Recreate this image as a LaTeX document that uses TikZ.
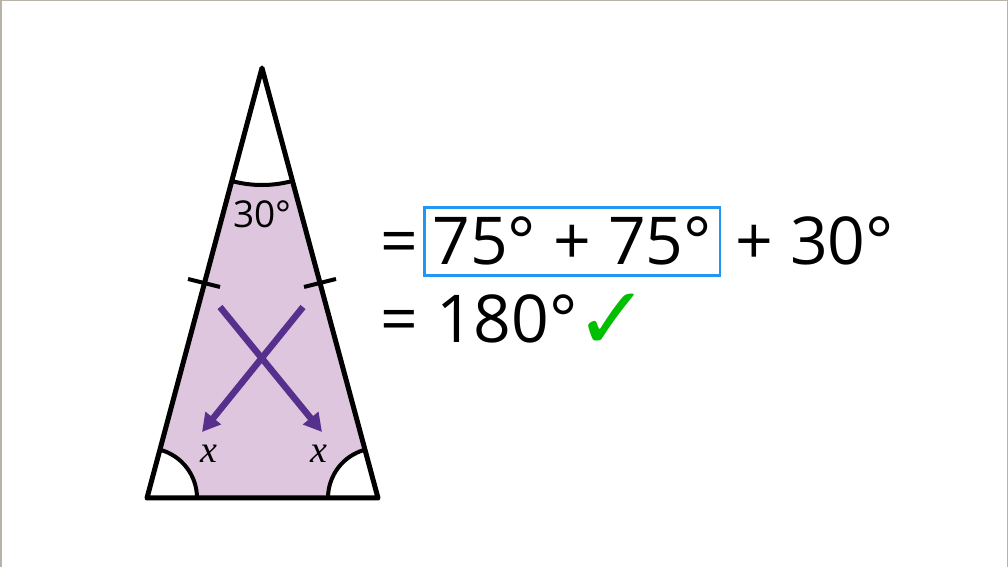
\documentclass[tikz,border=0pt]{standalone}
\usepackage{fontspec}
\setmainfont{Open Sans}
\newfontfamily\symfont{DejaVu Sans}
\newfontfamily\labelfont{Liberation Serif}
\usetikzlibrary{arrows.meta}
\definecolor{anglefill}{RGB}{223,198,223}
\definecolor{arrowpurple}{RGB}{86,48,140}
\definecolor{boxblue}{RGB}{33,150,243}
\definecolor{tickgreen}{RGB}{0,190,0}
\definecolor{framegray}{RGB}{184,178,168}
\tikzset{
	eqtext/.style={anchor=base west, inner sep=0pt, font=\fontsize{66}{70}\selectfont},
	crossarrow/.style={line width=6.5pt, color=arrowpurple, -{Triangle[length=18pt,width=19pt]}},
	anglelabel/.style={inner sep=0pt, font=\labelfont\itshape\fontsize{38}{40}\selectfont}
}

\begin{document}
\begin{tikzpicture}[x=1pt, y=1pt]
		%%%%% START %%%%%
		\useasboundingbox (0, 0) rectangle (1008, 567);
		\fill[white] (0, 0) rectangle (1008, 567);
		\draw[line width=3pt, color=framegray] (0, 0) -- (0, 567) -- (1008, 567) -- (1008, 0);
		
		\coordinate (apex) at (262, 499);
		\coordinate (baseL) at (147, 69);
		\coordinate (baseR) at (378, 69);
		
		\fill[anglefill] (apex) -- (baseL) -- (baseR) -- cycle;
		\fill[white] (apex) -- ++(255.0:117pt) arc (255.0:285.1:117pt) -- cycle;
		\fill[white] (baseL) -- ++(0:50pt) arc (0:75.0:50pt) -- cycle;
		\fill[white] (baseR) -- ++(105.1:50pt) arc (105.1:180:50pt) -- cycle;
		
		\draw[line width=4pt] (apex) ++(255.0:117pt) arc (255.0:285.1:117pt);
		\draw[line width=4pt] (baseL) ++(0:50pt) arc (0:75.0:50pt);
		\draw[line width=4pt] (baseR) ++(105.1:50pt) arc (105.1:180:50pt);
		
		\draw[line width=5pt, line join=round] (apex) -- (baseL) -- (baseR) -- cycle;
		
		% equal sides
		\draw[line width=4pt] (188, 288) -- (220, 280);
		\draw[line width=4pt] (336, 288) -- (304, 280);
		
		% base angles swap over
		\draw[crossarrow] (220, 260) -- (322, 135);
		\draw[crossarrow] (303, 260) -- (202, 135);
		
		\node[anglelabel] (xleft) at (209, 113) {x};
		\node[anglelabel] (xright) at (319, 113) {x};
		\node[anchor=base, inner sep=0pt] (topangle) at (262.5, 339) {\fontsize{37}{40}\selectfont 30°};
		
		% angle sum
		\node[eqtext] (eqone) at (380, 302) {=};
		\node[eqtext, draw=boxblue, line width=2.5pt, inner xsep=8pt, inner ysep=10.5pt,
			text height=47pt, text depth=0pt] (basesum) at (423, 302) {75° + 75°};
		\node[eqtext] (apexsum) at (735, 302) {+ 30°};
		\node[eqtext] (eqtwo) at (380, 224) {=};
		\node[eqtext] (total) at (436, 224) {180°};
		\node[color=tickgreen, inner sep=0pt] (check) at (612, 245) {\symfont\fontsize{88}{90}\selectfont ✓};
		%%%%% END %%%%%
\end{tikzpicture}
\end{document}
